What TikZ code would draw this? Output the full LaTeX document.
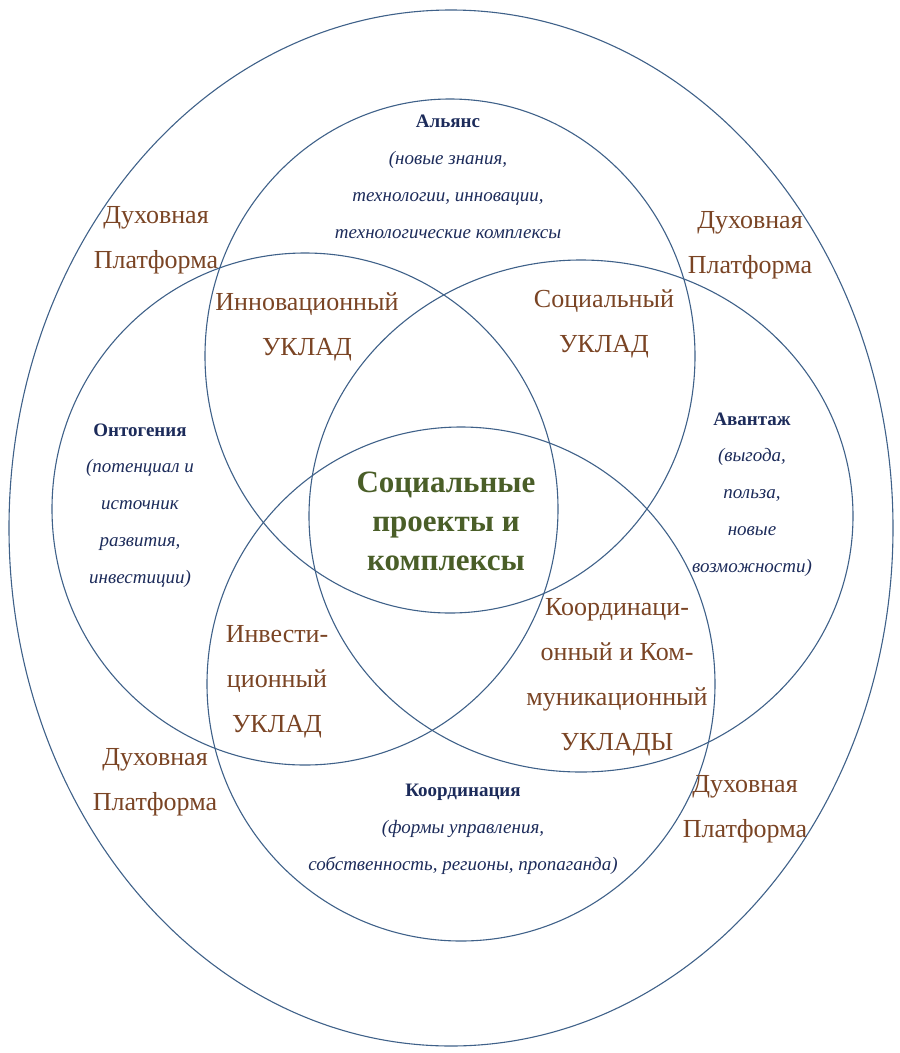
\documentclass[tikz,border=0pt]{standalone}
\usepackage{fontspec}
\setmainfont{Liberation Serif}
\usetikzlibrary{positioning}

\definecolor{ringline}{HTML}{3F6189}
\definecolor{ukladbrown}{HTML}{7A4424}
\definecolor{notenavy}{HTML}{1C2B5A}
\definecolor{coregreen}{HTML}{4A5E28}

% base anchor sits on the last line of each label
\tikzset{
    ring/.style={draw=ringline, line width=1.1pt},
    uklad/.style={text=ukladbrown, align=center, anchor=base, inner sep=0pt, font=\fontsize{26}{45}\selectfont},
    note/.style={text=notenavy, align=center, anchor=base, inner sep=0pt, font=\fontsize{19}{36.7}\selectfont},
    core/.style={text=coregreen, align=center, anchor=base, inner sep=0pt, font=\fontsize{31}{39}\selectfont\bfseries},
}

\begin{document}
\begin{tikzpicture}[x=1pt,y=-1pt]
        \useasboundingbox (0,0) rectangle (900,1053);

        % draw the rings
        \draw[ring] (451,528) ellipse [x radius=442, y radius=518];
        \draw[ring] (450,356) ellipse [x radius=245, y radius=257];
        \draw[ring] (305,509) ellipse [x radius=253, y radius=256];
        \draw[ring] (581,516) ellipse [x radius=272, y radius=256];
        \draw[ring] (461,684) ellipse [x radius=254, y radius=257];

        % platform labels
        \node[uklad] (dupTL) at (156,268) {Духовная\\Платформа};
        \node[uklad] (dupTR) at (750,273) {Духовная\\Платформа};
        \node[uklad] (dupBL) at (155,810) {Духовная\\Платформа};
        \node[uklad] (dupBR) at (745,837) {Духовная\\Платформа};

        % uklad labels
        \node[uklad] (innov) at (307,355) {Инновационный\\УКЛАД};
        \node[uklad] (social) at (604,352) {Социальный\\УКЛАД};
        \node[uklad] (invest) at (277,732) {Инвести-\\ционный\\УКЛАД};
        \node[uklad] (coord) at (617,750) {Координаци-\\онный и Ком-\\муникационный\\УКЛАДЫ};

        % ring notes
        \node[note] (alliance) at (448,238) {\textbf{Альянс}\\\textit{(новые знания,}\\\textit{технологии, инновации,}\\\textit{технологические комплексы}};
        \node[note] (onto) at (140,583) {\textbf{Онтогения}\\\textit{(потенциал и}\\\textit{источник}\\\textit{развития,}\\\textit{инвестиции)}};
        \node[note] (avant) at (752,572) {\textbf{Авантаж}\\\textit{(выгода,}\\\textit{польза,}\\\textit{новые}\\\textit{возможности)}};
        \node[note] (coordin) at (463,870) {\textbf{Координация}\\\textit{(формы управления,}\\\textit{собственность, регионы, пропаганда)}};

        % centre
        \node[core] (projects) at (446,570) {Социальные\\проекты и\\комплексы};
\end{tikzpicture}
\end{document}
